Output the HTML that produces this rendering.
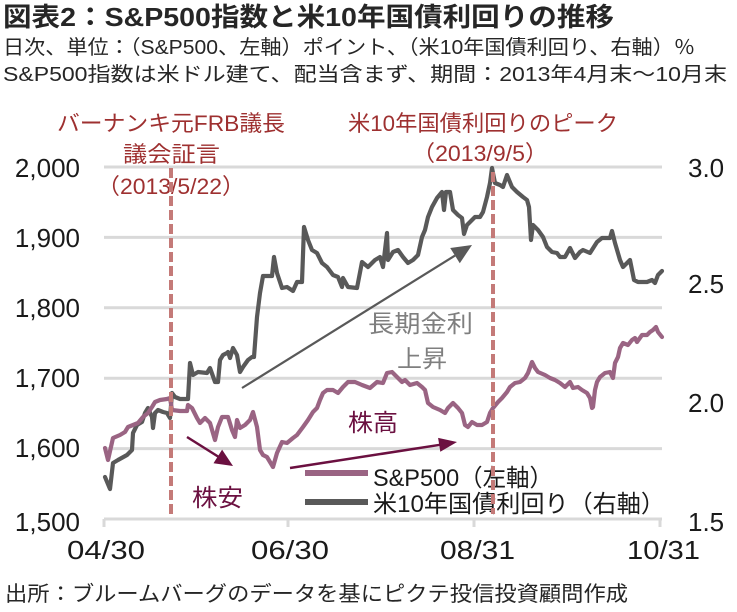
<!DOCTYPE html>
<html><head><meta charset="utf-8">
<style>
html,body{margin:0;padding:0;background:#fff;}
svg{display:block;}
text{font-family:"Liberation Sans","Noto Sans CJK JP",sans-serif;}
</style></head>
<body>
<svg width="737" height="612" viewBox="0 0 737 612" xmlns="http://www.w3.org/2000/svg">
<rect width="737" height="612" fill="#fff"/>
<!-- header -->
<text x="3" y="26" font-size="26" font-weight="bold" fill="#262626" textLength="611" lengthAdjust="spacingAndGlyphs">図表2：S&amp;P500指数と米10年国債利回りの推移</text>
<text x="3" y="54" font-size="20" fill="#262626" textLength="692" lengthAdjust="spacingAndGlyphs">日次、単位：（S&amp;P500、左軸）ポイント、（米10年国債利回り、右軸）％</text>
<text x="3" y="81" font-size="20" fill="#262626" textLength="724" lengthAdjust="spacingAndGlyphs">S&amp;P500指数は米ドル建て、配当含まず、期間：2013年4月末～10月末</text>

<!-- gridlines -->
<g stroke="#d9d9d9" stroke-width="3">
<line x1="104" y1="167" x2="662" y2="167"/>
<line x1="104" y1="237.4" x2="662" y2="237.4"/>
<line x1="104" y1="307.8" x2="662" y2="307.8"/>
<line x1="104" y1="378.2" x2="662" y2="378.2"/>
<line x1="104" y1="448.6" x2="662" y2="448.6"/>
<line x1="104" y1="519" x2="662" y2="519"/>
<line x1="104" y1="519" x2="104" y2="527"/>
<line x1="288" y1="519" x2="288" y2="527"/>
<line x1="474" y1="519" x2="474" y2="527"/>
<line x1="660" y1="519" x2="660" y2="527"/>
</g>

<!-- left axis labels -->
<g font-size="26" fill="#1a1a1a" text-anchor="end">
<text x="80" y="177">2,000</text>
<text x="80" y="247">1,900</text>
<text x="80" y="317">1,800</text>
<text x="80" y="387">1,700</text>
<text x="80" y="457">1,600</text>
<text x="80" y="531">1,500</text>
</g>
<!-- right axis labels -->
<g font-size="26" fill="#1a1a1a">
<text x="688" y="177">3.0</text>
<text x="688" y="293">2.5</text>
<text x="688" y="412">2.0</text>
<text x="688" y="531">1.5</text>
</g>
<!-- x labels -->
<g font-size="26" fill="#1a1a1a">
<text x="67" y="559" textLength="78" lengthAdjust="spacingAndGlyphs">04/30</text>
<text x="251" y="559" textLength="78" lengthAdjust="spacingAndGlyphs">06/30</text>
<text x="440" y="559" textLength="75" lengthAdjust="spacingAndGlyphs">08/31</text>
<text x="627" y="559" textLength="73" lengthAdjust="spacingAndGlyphs">10/31</text>
</g>

<!-- annotations top -->
<g font-size="22" fill="#9e3030">
<text x="57" y="131" textLength="228" lengthAdjust="spacingAndGlyphs">バーナンキ元FRB議長</text>
<text x="123" y="162" textLength="97" lengthAdjust="spacingAndGlyphs">議会証言</text>
<text x="97" y="194" textLength="148" lengthAdjust="spacingAndGlyphs">（2013/5/22）</text>
<text x="348" y="131" textLength="270" lengthAdjust="spacingAndGlyphs">米10年国債利回りのピーク</text>
<text x="412" y="161" textLength="136" lengthAdjust="spacingAndGlyphs">（2013/9/5）</text>
</g>

<!-- gray arrow -->
<line x1="242" y1="388" x2="455" y2="255.6" stroke="#595959" stroke-width="2.2"/>
<polygon points="472,245 459.8,263.2 450.2,248" fill="#595959"/>
<text x="368" y="332" font-size="24" fill="#7f7f7f" textLength="105" lengthAdjust="spacingAndGlyphs">長期金利</text>
<text x="397" y="367" font-size="24" fill="#7f7f7f" textLength="50" lengthAdjust="spacingAndGlyphs">上昇</text>

<!-- series -->
<polyline fill="none" stroke="#595959" stroke-width="4.2" stroke-linejoin="round" stroke-linecap="round" points="105,477 110,489 113,463 118,460 127,455 132,450 133,433 137,425 142,422 145,413 148,408 152,417 153,428 155,413 158,410 163,412 167,413 170,418 172,393 175,397 180,399 188,399 190,363 193,375 198,372 207,373 210,368 215,382 218,382 220,360 223,355 227,353 228,352 230,358 233,348 237,355 240,372 243,367 248,360 252,357 254,357 257,317 260,293 263,276 272,276 274,257 277,273 282,288 287,287 293,291 297,282 302,282 304,227 308,240 312,250 317,253 322,263 327,267 333,275 338,277 342,287 343,278 348,287 357,288 362,262 368,267 375,260 380,257 383,267 387,233 388,260 393,252 398,250 403,257 408,263 413,260 418,255 422,237 425,230 428,217 432,207 437,198 442,192 444,210 446,192 450,192 453,210 458,215 462,218 464,234 467,225 472,220 475,217 480,217 483,212 487,197 490,183 492,168 495,183 500,185 503,187 507,175 512,187 517,192 523,197 527,200 529,207 531,240 533,225 538,230 543,237 547,247 552,252 557,253 560,257 565,257 570,248 575,258 580,252 583,250 590,253 597,242 602,238 610,238 612,231 615,243 620,260 623,267 630,260 634,280 638,282 647,282 652,280 655,283 658,275 662,271"/>
<polyline fill="none" stroke="#9a6483" stroke-width="4.2" stroke-linejoin="round" stroke-linecap="round" points="105,448 108,460 113,438 120,435 125,432 128,427 133,425 138,423 143,417 148,413 152,407 155,402 160,400 167,399 170,398 172,410 180,411 187,411 188,405 192,408 197,418 200,423 205,418 210,423 215,440 218,427 222,417 228,417 232,430 235,437 237,420 240,428 245,425 250,420 253,412 257,427 260,450 263,455 267,457 273,467 277,453 282,442 287,443 293,438 297,435 303,427 308,420 313,412 317,408 320,400 323,393 327,390 333,390 338,393 343,387 348,382 355,382 362,385 370,388 377,382 383,383 387,373 392,372 397,377 402,382 405,380 410,385 417,383 422,387 425,390 428,403 433,407 440,410 445,413 448,408 453,403 458,408 462,413 465,425 468,427 472,422 477,425 482,425 487,422 490,413 493,408 498,402 502,398 507,392 510,387 515,383 520,382 525,378 528,373 532,362 535,368 538,372 545,375 550,378 555,380 560,383 565,387 570,382 573,388 578,387 582,390 587,393 590,398 592,408 593,407 595,390 597,382 600,377 605,373 610,372 613,378 615,363 618,357 620,348 623,343 628,345 632,340 635,338 637,342 642,335 647,335 650,332 653,330 656,327 658,332 662,337"/>

<!-- stock arrows -->
<line x1="187" y1="437" x2="218" y2="456.5" stroke="#6b1040" stroke-width="2.5"/>
<polygon points="233,466 213.5,463.2 222.1,449.6" fill="#6b1040"/>
<line x1="290" y1="468" x2="440" y2="444.8" stroke="#6b1040" stroke-width="2.5"/>
<polygon points="457,442 440.3,451.7 438.1,437.9" fill="#6b1040"/>
<text x="192" y="506" font-size="24" fill="#6b1040" textLength="51" lengthAdjust="spacingAndGlyphs">株安</text>
<text x="348" y="431" font-size="24" fill="#6b1040" textLength="50" lengthAdjust="spacingAndGlyphs">株高</text>

<!-- legend -->
<line x1="305" y1="473" x2="368" y2="473" stroke="#9a6483" stroke-width="6"/>
<line x1="305" y1="502" x2="368" y2="502" stroke="#595959" stroke-width="6"/>
<text x="373" y="486" font-size="24" fill="#1a1a1a" textLength="180" lengthAdjust="spacingAndGlyphs">S&amp;P500（左軸）</text>
<text x="373" y="512" font-size="24" fill="#1a1a1a" textLength="292" lengthAdjust="spacingAndGlyphs">米10年国債利回り（右軸）</text>

<!-- dashed event lines -->
<g stroke="#c47a78" stroke-width="4" stroke-dasharray="10,4">
<line x1="171" y1="168" x2="171" y2="514"/>
<line x1="493" y1="172" x2="493" y2="514"/>
</g>

<!-- footer -->
<text x="5" y="601" font-size="21" fill="#262626" textLength="623" lengthAdjust="spacingAndGlyphs">出所：ブルームバーグのデータを基にピクテ投信投資顧問作成</text>
</svg>
</body></html>
